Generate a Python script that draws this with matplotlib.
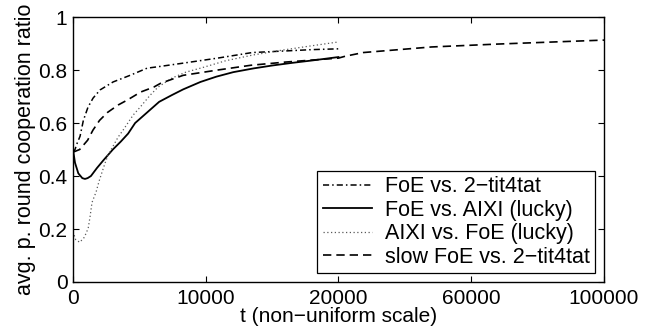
import numpy as np
import matplotlib
matplotlib.use("Agg")
import matplotlib.pyplot as plt

plt.rcParams['font.family'] = ['Liberation Sans', 'DejaVu Sans']

# FoE vs. 2-tit4tat
t_dd = [0, 150, 280, 530, 780, 1130, 1510, 2040, 3020, 4300, 5580, 6340, 8300, 10900, 13500, 16000, 18000, 20000]
y_dd = [0.49, 0.50, 0.52, 0.55, 0.61, 0.66, 0.694, 0.725, 0.755, 0.78, 0.807, 0.812, 0.826, 0.845, 0.866, 0.872, 0.877, 0.88]

# FoE vs. AIXI (lucky)
t_so = [0, 150, 400, 700, 900, 1100, 1350, 1800, 2300, 3000, 3600, 4150, 4680, 5585, 6490, 7470, 8300, 9600,
        10800, 12075, 13585, 15000, 16500, 18000, 20000]
y_so = [0.50, 0.45, 0.41, 0.392, 0.389, 0.392, 0.40, 0.43, 0.46, 0.50, 0.53, 0.56, 0.60, 0.64, 0.68, 0.706, 0.727, 0.755,
        0.775, 0.792, 0.806, 0.817, 0.827, 0.836, 0.849]

# AIXI vs. FoE (lucky)
t_do = [0, 200, 500, 800, 1000, 1150, 1280, 1430, 1740, 1960, 2190, 2415, 2640, 3400, 3770, 4530, 5060, 5810, 6415,
        7470, 8500, 9810, 11500, 13585, 15500, 17500, 20000]
y_do = [0.19, 0.16, 0.15, 0.165, 0.185, 0.205, 0.245, 0.30, 0.34, 0.38, 0.415, 0.449, 0.479, 0.547, 0.573, 0.63, 0.66,
        0.705, 0.736, 0.77, 0.792, 0.81, 0.835, 0.857, 0.873, 0.888, 0.906]

# slow FoE vs. 2-tit4tat
t_da = [0, 500, 1100, 1500, 2000, 2600, 3400, 4100, 5100, 6100, 6600, 8300, 10900, 13400, 16000, 20000, 22000, 27500,
        48000, 68000, 100000]
y_da = [0.49, 0.50, 0.535, 0.573, 0.61, 0.64, 0.668, 0.687, 0.717, 0.736, 0.75, 0.78, 0.80, 0.818, 0.83, 0.845, 0.852,
        0.866, 0.887, 0.898, 0.913]

x_ticks = [0, 10000, 20000, 60000, 100000]
y_ticks = [0, 0.2, 0.4, 0.6, 0.8, 1]


def fwd(t):
    t = np.asarray(t, dtype=float)
    return np.where(t <= 20000, t, 20000 + (t - 20000) / 4.0)


def inv(u):
    u = np.asarray(u, dtype=float)
    return np.where(u <= 20000, u, 20000 + (u - 20000) * 4.0)


fig = plt.figure(figsize=(6.56, 3.34), dpi=100)
ax = fig.add_axes([0.1113, 0.1557, 0.8094, 0.7933])
ax.set_xscale('function', functions=(fwd, inv))

ax.plot(t_dd, y_dd, color='k', lw=1.1, ls=(0, (4, 2, 1, 2)), label='FoE vs. 2\u2212tit4tat')
ax.plot(t_so, y_so, color='k', lw=1.3, ls='-', label='FoE vs. AIXI (lucky)')
ax.plot(t_do, y_do, color='0.35', lw=0.9, ls=(0, (1, 2)), label='AIXI vs. FoE (lucky)')
ax.plot(t_da, y_da, color='k', lw=1.2, ls=(0, (5, 3)), label='slow FoE vs. 2\u2212tit4tat')

ax.set_xlim(0, 100000)
ax.set_ylim(0, 1)
ax.set_xticks(x_ticks)
ax.set_xticklabels([str(v) for v in x_ticks])
ax.set_yticks(y_ticks)
ax.set_yticklabels(['0', '0.2', '0.4', '0.6', '0.8', '1'])
ax.minorticks_off()
ax.tick_params(direction='in', top=True, right=True, length=4, width=0.8, labelsize=15)
ax.tick_params(axis='x', pad=5)
ax.tick_params(axis='y', pad=4)
for s in ax.spines.values():
    s.set_linewidth(1.0)

ax.set_xlabel('t (non\u2212uniform scale)', fontsize=15, labelpad=-1)
ax.set_ylabel('avg. p. round cooperation ratio', fontsize=15.5, labelpad=2)

leg = ax.legend(loc='lower right', fontsize=15.5, frameon=True, fancybox=False,
                edgecolor='k', framealpha=1, handlelength=2.3, handletextpad=0.6,
                borderpad=0.25, labelspacing=0.12, borderaxespad=0.4)
leg.get_frame().set_linewidth(0.9)

fig.savefig('out.png', dpi=100)
